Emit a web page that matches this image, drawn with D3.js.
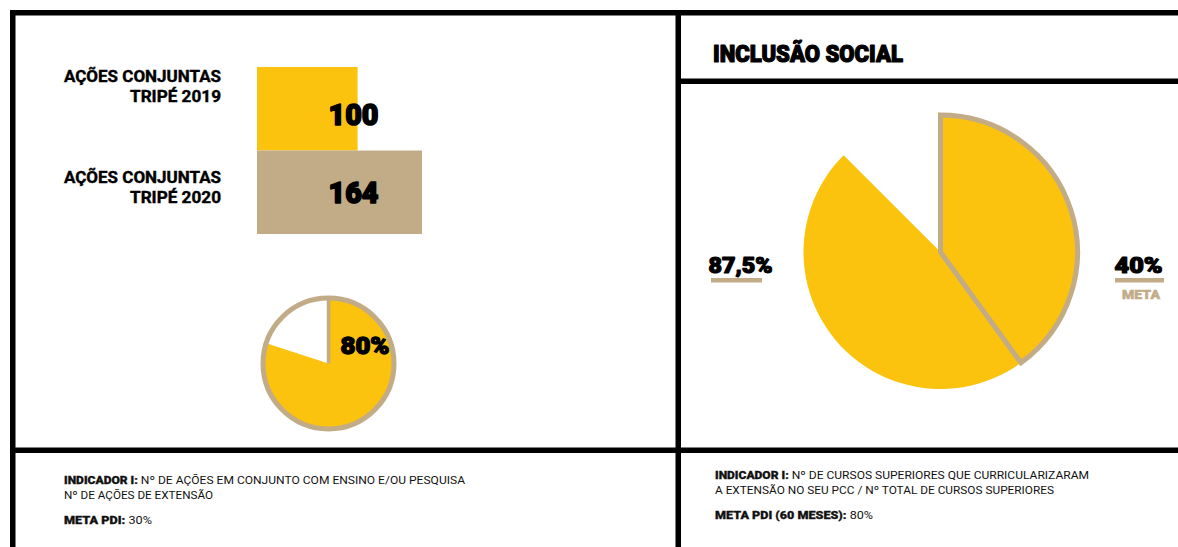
<!DOCTYPE html>
<html><head><meta charset="utf-8">
<script src="https://cdn.jsdelivr.net/npm/d3@7"></script>
<style>html,body{margin:0;padding:0;background:#fff;overflow:hidden}</style>
</head><body>
<svg id="c" width="1178" height="547"></svg>
<script>
// ---- data ----
const barYears = ["2019", "2020"];
const barLabels = [["AÇÕES CONJUNTAS", "TRIPÉ 2019"], ["AÇÕES CONJUNTAS", "TRIPÉ 2020"]];
const barValues = [100, 164];
const smallPieValue = 80;            // % realizado
const socialValue = 87.5;            // % inclusão social
const socialMeta = 40;               // % meta
const sectionTitle = "INCLUSÃO SOCIAL";
const metaLabel = "META";
const leftIndicator = ["INDICADOR I:", "Nº DE AÇÕES EM CONJUNTO COM ENSINO E/OU PESQUISA", "Nº DE AÇÕES DE EXTENSÃO"];
const leftMeta = ["META PDI:", "30%"];
const rightIndicator = ["INDICADOR I:", "Nº DE CURSOS SUPERIORES QUE CURRICULARIZARAM", "A EXTENSÃO NO SEU PCC / Nº TOTAL DE CURSOS SUPERIORES"];
const rightMeta = ["META PDI (60 MESES):", "80%"];

// ---- style ----
const YELLOW = "#FBC20E", TAN = "#C2AB87", BLACK = "#000";
const HEAVY = "Roboto, 'DejaVu Sans', sans-serif";
const pct = v => String(v).replace(".", ",") + "%";

const svg = d3.select("#c");
svg.append("rect").attr("width", 1178).attr("height", 547).attr("fill", "#fff");

// ---- frame lines ----
const frame = svg.append("g").attr("fill", BLACK);
frame.append("rect").attr("x", 10).attr("y", 10).attr("width", 1168).attr("height", 5.5);
frame.append("rect").attr("x", 10).attr("y", 10).attr("width", 5.5).attr("height", 537);
frame.append("rect").attr("x", 675.5).attr("y", 10).attr("width", 5.5).attr("height", 537);
frame.append("rect").attr("x", 10).attr("y", 447.5).attr("width", 1168).attr("height", 5.5);
frame.append("rect").attr("x", 678).attr("y", 78.5).attr("width", 500).attr("height", 5.5);

// ---- bars ----
const x = d3.scaleLinear().domain([0, 164]).range([257, 422]);
const y = d3.scaleBand().domain(barYears).range([67, 234]).padding(0);
const labelY = d3.scalePoint().domain(barYears).range([82, 183]);
const valueY = d3.scalePoint().domain(barYears).range([125, 203]);
const barColors = d3.scaleOrdinal().domain(barYears).range([YELLOW, TAN]);

svg.append("g").selectAll("rect").data(barYears).join("rect")
  .attr("x", x(0)).attr("y", d => y(d))
  .attr("width", (d, i) => x(barValues[i]) - x(0))
  .attr("height", y.bandwidth())
  .attr("fill", d => barColors(d));

const catG = svg.append("g");
barYears.forEach((yr, i) => {
  barLabels[i].forEach((line, j) => {
    catG.append("text")
      .attr("x", 221).attr("y", labelY(yr) + j * 20)
      .attr("text-anchor", "end")
      .attr("font-family", HEAVY).attr("font-weight", 700).attr("font-size", 16)
      .attr("stroke", BLACK).attr("stroke-width", 0.4)
      .attr("textLength", j === 0 ? 157 : 91).attr("lengthAdjust", "spacingAndGlyphs")
      .text(line);
  });
});

svg.append("g").selectAll("text").data(barYears).join("text")
  .attr("x", 353.5).attr("y", d => valueY(d))
  .attr("text-anchor", "middle")
  .attr("font-family", HEAVY).attr("font-weight", 900).attr("font-size", 29)
  .attr("stroke", BLACK).attr("stroke-width", 1.6).attr("stroke-linejoin", "round")
  .attr("textLength", 50).attr("lengthAdjust", "spacingAndGlyphs")
  .text((d, i) => barValues[i]);

// ---- small pie ----
const angle = d3.scaleLinear().domain([0, 100]).range([0, 2 * Math.PI]);
const sp = svg.append("g").attr("transform", "translate(328.5,363.5)");
const rSmall = 65.5;
sp.append("circle").attr("r", rSmall).attr("fill", "#fff");
sp.append("path")
  .attr("d", d3.arc()({innerRadius: 0, outerRadius: rSmall, startAngle: angle(0), endAngle: angle(smallPieValue)}))
  .attr("fill", YELLOW);
sp.append("circle").attr("r", rSmall).attr("fill", "none").attr("stroke", TAN).attr("stroke-width", 5);
sp.append("line").attr("x1", 0).attr("y1", 0).attr("x2", 0).attr("y2", -rSmall)
  .attr("stroke", TAN).attr("stroke-width", 3.5);
sp.append("text").attr("x", 36.5).attr("y", -9.5).attr("text-anchor", "middle")
  .attr("font-family", HEAVY).attr("font-weight", 900).attr("font-size", 23)
  .attr("stroke", BLACK).attr("stroke-width", 1.3).attr("stroke-linejoin", "round")
  .attr("textLength", 49).attr("lengthAdjust", "spacingAndGlyphs")
  .text(pct(smallPieValue));

// ---- right panel ----
svg.append("text").attr("x", 713).attr("y", 62)
  .attr("font-family", HEAVY).attr("font-weight", 900).attr("font-size", 23.5)
  .attr("stroke", BLACK).attr("stroke-width", 1.2).attr("stroke-linejoin", "round")
  .attr("textLength", 190).attr("lengthAdjust", "spacingAndGlyphs")
  .text(sectionTitle);

const bp = svg.append("g").attr("transform", "translate(940.5,252)");
const rBig = 137;
bp.append("path")
  .attr("d", d3.arc()({innerRadius: 0, outerRadius: rBig, startAngle: angle(0), endAngle: angle(socialValue)}))
  .attr("fill", YELLOW);
bp.append("path")
  .attr("d", d3.arc()({innerRadius: 0, outerRadius: rBig, startAngle: angle(0), endAngle: angle(socialMeta)}))
  .attr("fill", YELLOW).attr("stroke", TAN).attr("stroke-width", 5).attr("stroke-linejoin", "miter");

const legend = [{v: socialValue, x0: 708.5, w: 64, bx: 711, bw: 51}, {v: socialMeta, x0: 1114.5, w: 48, bx: 1115, bw: 49}];
const lg = svg.append("g");
legend.forEach(l => {
  lg.append("text").attr("x", l.x0).attr("y", 273)
    .attr("font-family", HEAVY).attr("font-weight", 900).attr("font-size", 22)
    .attr("stroke", BLACK).attr("stroke-width", 1.2).attr("stroke-linejoin", "round")
    .attr("textLength", l.w).attr("lengthAdjust", "spacingAndGlyphs")
    .text(pct(l.v));
  lg.append("rect").attr("x", l.bx).attr("y", 278).attr("width", l.bw).attr("height", 4.5).attr("fill", TAN);
});
lg.append("text").attr("x", 1141).attr("y", 299).attr("text-anchor", "middle")
  .attr("font-family", HEAVY).attr("font-weight", 900).attr("font-size", 13.5).attr("fill", TAN)
  .attr("stroke", TAN).attr("stroke-width", 0.5)
  .attr("textLength", 38).attr("lengthAdjust", "spacingAndGlyphs")
  .text(metaLabel);

// ---- footers ----
const FOOT = "Roboto, 'Liberation Sans', sans-serif";
function footer(x0, y0, ind, meta, w1, w2, w3) {
  const g = svg.append("g").attr("font-family", FOOT).attr("font-size", 11).attr("fill", "#111");
  const t1 = g.append("text").attr("x", x0).attr("y", y0)
    .attr("textLength", w1).attr("lengthAdjust", "spacingAndGlyphs");
  t1.append("tspan").attr("font-weight", 900).attr("stroke", "#111").attr("stroke-width", 0.3).text(ind[0]);
  t1.append("tspan").text(" " + ind[1]);
  g.append("text").attr("x", x0).attr("y", y0 + 14.5)
    .attr("textLength", w2).attr("lengthAdjust", "spacingAndGlyphs").text(ind[2]);
  const t3 = g.append("text").attr("x", x0).attr("y", y0 + 39.5)
    .attr("textLength", w3).attr("lengthAdjust", "spacingAndGlyphs");
  t3.append("tspan").attr("font-weight", 900).attr("stroke", "#111").attr("stroke-width", 0.3).text(meta[0]);
  t3.append("tspan").text("  " + meta[1]);
}
footer(64, 484, leftIndicator, leftMeta, 401, 149, 88);
footer(715, 479, rightIndicator, rightMeta, 374, 339, 158);
</script>
</body></html>
